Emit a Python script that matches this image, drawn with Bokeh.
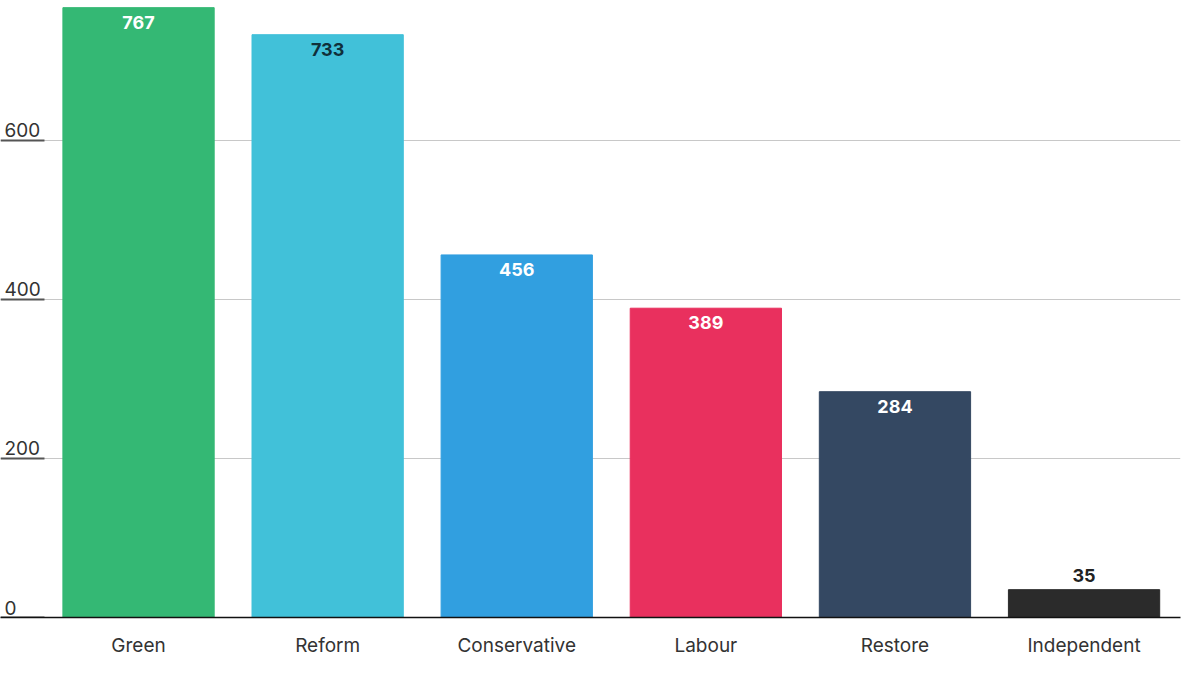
from bokeh.plotting import figure
from bokeh.models import ColumnDataSource, FixedTicker, Range1d
from bokeh.core.properties import value
from bokeh.embed import file_html
from bokeh.resources import INLINE

parties = ["Green", "Reform", "Conservative", "Labour", "Restore", "Independent"]
votes = [767, 733, 456, 389, 284, 35]
colors = ["#34b874", "#41c1d9", "#319fe0", "#e9305e", "#344862", "#2b2b2b"]
label_colors = ["white", "#10303a", "white", "white", "white", "#222222"]
y_ticks = [0, 200, 400, 600]

xs = list(range(len(parties)))
src = ColumnDataSource(dict(x=xs, top=votes, color=colors, lc=label_colors,
                            lab=[str(v) for v in votes],
                            ly=[v - 10 if v > 100 else v + 10 for v in votes],
                            base=["top" if v > 100 else "bottom" for v in votes]))

p = figure(width=1184, height=659, output_backend="svg", toolbar_location=None,
           x_range=Range1d(-0.73, 5.51), y_range=Range1d(0, 776),
           min_border_left=0, min_border_right=4, min_border_top=0, min_border_bottom=0)
p.outline_line_color = None
p.vbar(x="x", top="top", width=0.8, color="color", source=src)
p.text(x="x", y="ly", text="lab", text_color="lc", text_align="center",
       text_baseline="base", text_font=value("Inter"), text_font_style="bold",
       text_font_size="18px", source=src)

p.yaxis.visible = False
p.ygrid.ticker = FixedTicker(ticks=y_ticks[1:])
p.ygrid.grid_line_color = "#c8c8c8"
p.xgrid.visible = False

tsrc = ColumnDataSource(dict(y=y_ticks, t=[str(t) for t in y_ticks]))
p.text(x=-0.73, y="y", text="t", text_font=value("Inter"), text_font_size="19px",
       text_color="#333333", text_baseline="bottom", x_offset=4, y_offset=-3, source=tsrc)
p.segment(x0=-0.73, x1=-0.73 + 44 / 189.2, y0="y", y1="y", line_color="#555555",
          line_width=2, source=tsrc)

p.xaxis.ticker = FixedTicker(ticks=xs)
p.xaxis.major_label_overrides = {i: n for i, n in enumerate(parties)}
p.xaxis.major_tick_line_color = None
p.xaxis.minor_tick_line_color = None
p.xaxis.axis_line_color = "#111111"
p.xaxis.axis_line_width = 1.5
p.xaxis.major_label_text_font = "Inter"
p.xaxis.major_label_text_font_size = "19px"
p.xaxis.major_label_text_color = "#333333"
p.xaxis.major_label_standoff = 10

open("out.html", "w").write(file_html(p, INLINE))
